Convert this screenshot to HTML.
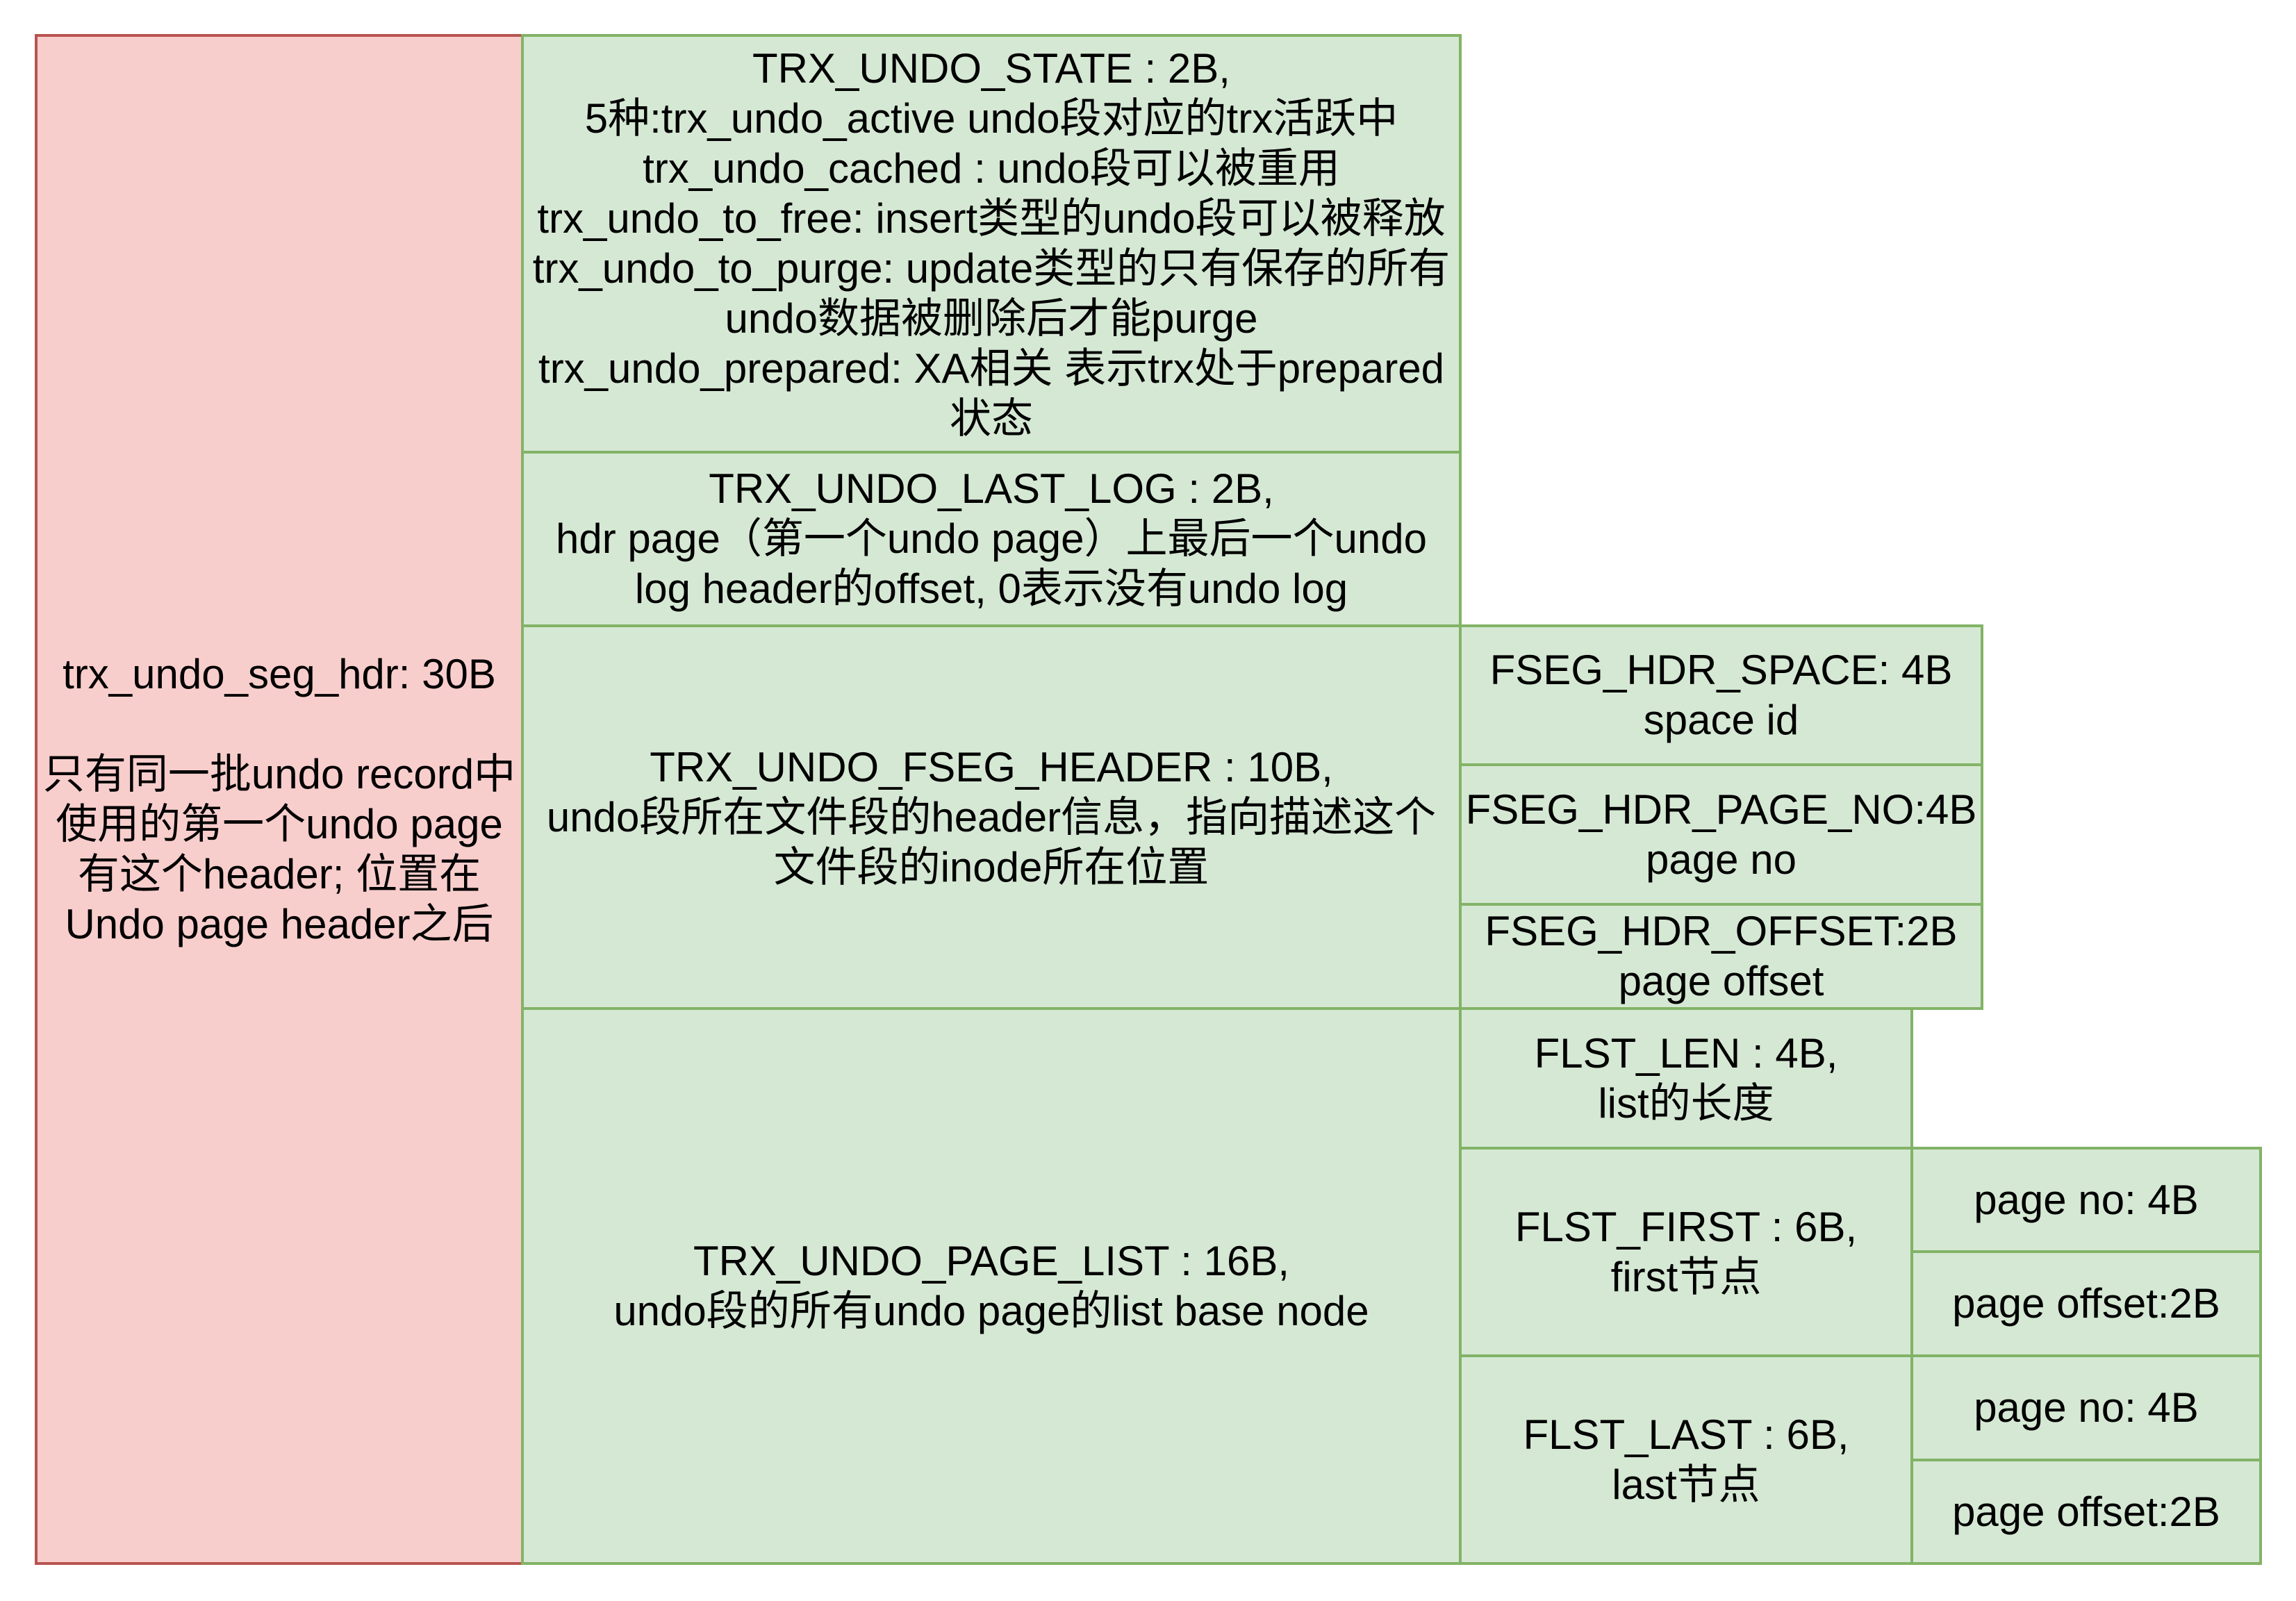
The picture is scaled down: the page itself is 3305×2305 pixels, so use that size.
<!DOCTYPE html>
<html><head><meta charset="utf-8"><style>
body{margin:0;width:3305px;height:2305px;background:#fff;position:relative;overflow:hidden;font-family:"Liberation Sans","Noto Sans CJK SC",sans-serif;}
.b{position:absolute;box-sizing:border-box;border:4px solid #82b366;background:#d5e8d4;display:flex;align-items:center;justify-content:center;text-align:center;font-size:60px;line-height:72px;color:#000;white-space:nowrap;}
.r{background:#f8cecc;border-color:#b85450;}
</style></head><body>
<div class="b r" style="left:50px;top:49px;width:704px;height:2204px">trx_undo_seg_hdr: 30B<br><br>只有同一批undo record中<br>使用的第一个undo page<br>有这个header; 位置在<br>Undo page header之后</div>
<div class="b" style="left:750px;top:49px;width:1354px;height:604px">TRX_UNDO_STATE : 2B,<br>5种:trx_undo_active undo段对应的trx活跃中<br>trx_undo_cached : undo段可以被重用<br>trx_undo_to_free: insert类型的undo段可以被释放<br>trx_undo_to_purge: update类型的只有保存的所有<br>undo数据被删除后才能purge<br>trx_undo_prepared: XA相关 表示trx处于prepared<br>状态</div>
<div class="b" style="left:750px;top:649px;width:1354px;height:254px">TRX_UNDO_LAST_LOG : 2B,<br>hdr page（第一个undo page）上最后一个undo<br>log header的offset, 0表示没有undo log</div>
<div class="b" style="left:750px;top:899px;width:1354px;height:555px">TRX_UNDO_FSEG_HEADER : 10B,<br>undo段所在文件段的header信息，指向描述这个<br>文件段的inode所在位置</div>
<div class="b" style="left:750px;top:1450px;width:1354px;height:803px">TRX_UNDO_PAGE_LIST : 16B,<br>undo段的所有undo page的list base node</div>
<div class="b" style="left:2100px;top:899px;width:755px;height:204px">FSEG_HDR_SPACE: 4B<br>space id</div>
<div class="b" style="left:2100px;top:1099px;width:755px;height:205px">FSEG_HDR_PAGE_NO:4B<br>page no</div>
<div class="b" style="left:2100px;top:1300px;width:755px;height:154px">FSEG_HDR_OFFSET:2B<br>page offset</div>
<div class="b" style="left:2100px;top:1450px;width:654px;height:205px">FLST_LEN : 4B,<br>list的长度</div>
<div class="b" style="left:2100px;top:1651px;width:654px;height:303px">FLST_FIRST : 6B,<br>first节点</div>
<div class="b" style="left:2100px;top:1950px;width:654px;height:303px">FLST_LAST : 6B,<br>last节点</div>
<div class="b" style="left:2750px;top:1651px;width:506px;height:153px">page no: 4B</div>
<div class="b" style="left:2750px;top:1800px;width:506px;height:154px">page offset:2B</div>
<div class="b" style="left:2750px;top:1950px;width:506px;height:154px">page no: 4B</div>
<div class="b" style="left:2750px;top:2100px;width:506px;height:153px">page offset:2B</div>
</body></html>
